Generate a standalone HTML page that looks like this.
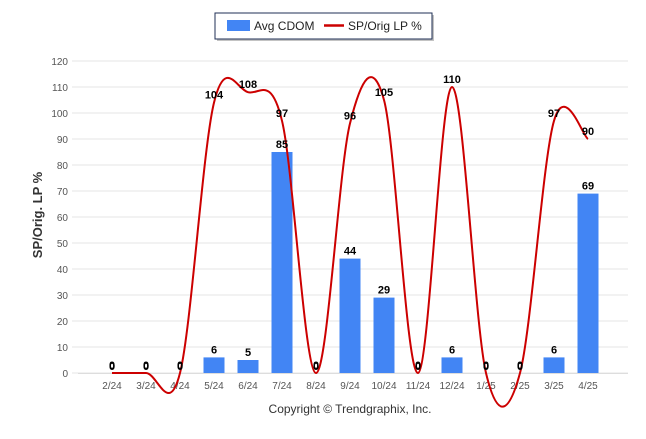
<!DOCTYPE html>
<html><head><meta charset="utf-8"><style>
body{margin:0;background:#fff;font-family:"Liberation Sans",sans-serif}
svg text{font-family:"Liberation Sans",sans-serif}
</style></head><body>
<svg id="c" width="646" height="434">
<g>
<rect x="217" y="15" width="217" height="26" fill="#888" opacity="0.5"/>
<rect x="215" y="13" width="217" height="26" fill="#fff" stroke="#1f2f55" stroke-width="1"/>
<rect x="227" y="20" width="23" height="11" fill="#4285f4"/>
<text x="254" y="30" font-size="12" fill="#222">Avg CDOM</text>
<line x1="324" y1="25.5" x2="344" y2="25.5" stroke="#cc0000" stroke-width="2.5"/>
<text x="348" y="30" font-size="12" fill="#222">SP/Orig LP %</text>
</g>
<text transform="translate(42,215) rotate(-90)" text-anchor="middle" font-size="13" font-weight="bold" fill="#333">SP/Orig. LP %</text>
<text x="350" y="413" text-anchor="middle" font-size="12" fill="#333">Copyright © Trendgraphix, Inc.</text>
<g id="grid"></g><g id="bars"></g><g id="line"></g><g id="labels"></g>
</svg>
<script>
const categories=["2/24","3/24","4/24","5/24","6/24","7/24","8/24","9/24","10/24","11/24","12/24","1/25","2/25","3/25","4/25"];
const cdom=[0,0,0,6,5,85,0,44,29,0,6,0,0,6,69];
const lp=[0,0,0,104,108,97,0,96,105,0,110,0,0,97,90];
const yTicks=[0,10,20,30,40,50,60,70,80,90,100,110,120];
const NS="http://www.w3.org/2000/svg";
const x0=95,x1=605,yB=373,yT=61,yMax=120;
const step=(x1-x0)/categories.length;
const X=i=>x0+step*(i+0.5);
const Y=v=>yB-(v/yMax)*(yB-yT);
function mk(t,a,p){const e=document.createElementNS(NS,t);for(const k in a)e.setAttribute(k,a[k]);(p||document.getElementById('c')).appendChild(e);return e;}
const grid=document.getElementById('grid');
yTicks.forEach(v=>{
 const l=mk('line',{x1:72,x2:628,y1:Y(v),y2:Y(v),stroke:'#e6e6e6'},grid);
 
 
 const t=mk('text',{x:68,y:Y(v)+4,'text-anchor':'end','font-size':10,fill:'#555'},grid);
 t.textContent=v;
 
 
});
const ax=mk('line',{x1:78,x2:628,y1:yB+0.5,y2:yB+0.5,stroke:'#ddd'},grid);


categories.forEach((c,i)=>{
 const t=mk('text',{x:X(i),y:yB+16,'text-anchor':'middle','font-size':10,fill:'#555'},grid);
 t.textContent=c;
 
 
});
const bars=document.getElementById('bars'),labels=document.getElementById('labels');
cdom.forEach((v,i)=>{
 const bw=21;
 if(v>0){const r=mk('rect',{x:X(i)-bw/2,y:Y(v),width:bw,height:yB-Y(v),fill:'#4285f4'},bars);
 
 }
 const t=mk('text',{x:X(i),y:Y(v)-4,'text-anchor':'middle','font-size':11,'font-weight':'bold',fill:'#000'},labels);
 t.textContent=v;
 
 
});
// Catmull-Rom spline (allows overshoot like the reference)
const pts=lp.map((v,i)=>({x:X(i),y:Y(v)}));
let d='M'+pts[0].x+' '+pts[0].y;
for(let i=0;i<pts.length-1;i++){
 const p0=pts[Math.max(0,i-1)],p1=pts[i],p2=pts[i+1],p3=pts[Math.min(pts.length-1,i+2)];
 const k=1/6;
 const c1x=p1.x+(p2.x-p0.x)*k,c1y=p1.y+(p2.y-p0.y)*k;
 const c2x=p2.x-(p3.x-p1.x)*k,c2y=p2.y-(p3.y-p1.y)*k;
 d+=` C${c1x} ${c1y} ${c2x} ${c2y} ${p2.x} ${p2.y}`;
}
const path=mk('path',{d:d,fill:'none',stroke:'#cc0000','stroke-width':2},document.getElementById('line'));


lp.forEach((v,i)=>{
 const t=mk('text',{x:X(i),y:v>0?Y(v)-4:Y(v)-3,'text-anchor':'middle','font-size':11,'font-weight':'bold',fill:'#000'},labels);
 t.textContent=v;
 
 
});
</script>
</body></html>
